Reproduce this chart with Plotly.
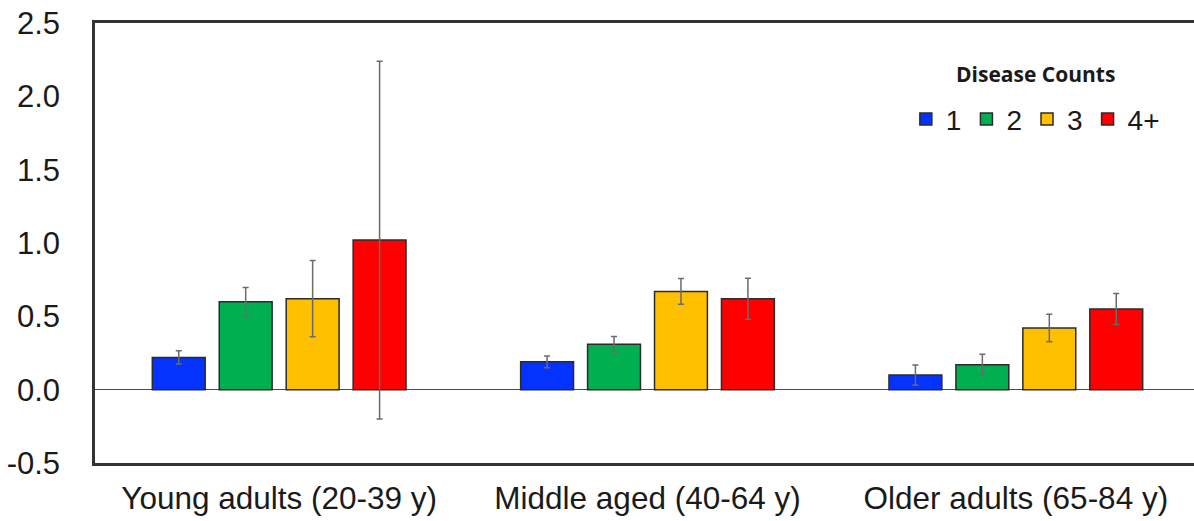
import plotly.graph_objects as go

# age groups on the x axis
age_groups = ["Young adults (20-39 y)", "Middle aged (40-64 y)", "Older adults (65-84 y)"]

# disease count series: bar heights and symmetric error
series_names = ["1", "2", "3", "4+"]
values_1 = [0.22, 0.19, 0.10]
values_2 = [0.60, 0.31, 0.17]
values_3 = [0.62, 0.67, 0.42]
values_4 = [1.02, 0.62, 0.55]
errors_1 = [0.045, 0.04, 0.068]
errors_2 = [0.097, 0.053, 0.072]
errors_3 = [0.26, 0.088, 0.094]
errors_4 = [1.22, 0.14, 0.105]

# y tick labels (plain hyphen minus as in the original)
y_ticks = [-0.5, 0.0, 0.5, 1.0, 1.5, 2.0, 2.5]
y_tick_labels = ["-0.5", "0.0", "0.5", "1.0", "1.5", "2.0", "2.5"]

colors = ["#0433FF", "#00B050", "#FFC000", "#FF0000"]

fig = go.Figure()
for name, vals, errs, color in zip(
    series_names,
    [values_1, values_2, values_3, values_4],
    [errors_1, errors_2, errors_3, errors_4],
    colors,
):
    fig.add_trace(
        go.Bar(
            x=age_groups,
            y=vals,
            name=name,
            marker={"color": color, "line": {"color": "#2b2b2b", "width": 1.5}},
            error_y={
                "type": "data",
                "array": errs,
                "visible": True,
                "color": "#6b6b6b",
                "thickness": 1.5,
                "width": 3,
            },
        )
    )

# legend heading as a separate label so it can sit higher than plotly puts it
fig.add_annotation(
    text="<b>Disease Counts</b>",
    xref="paper",
    yref="paper",
    x=0.851,
    y=0.884,
    xanchor="center",
    yanchor="middle",
    showarrow=False,
    font={"size": 21, "family": "Open Sans, sans-serif", "color": "#1a1a1a"},
)

# figure is a few px wider than the window: the original's frame runs off the right edge
fig.update_layout(
    width=1200,
    height=521,
    margin={"l": 95, "r": 0, "t": 23, "b": 58, "autoexpand": False},
    paper_bgcolor="white",
    plot_bgcolor="white",
    barmode="group",
    bargap=0.273,
    bargroupgap=0.21,
    font={"family": "Liberation Sans, Arial, sans-serif", "color": "#1a1a1a"},
    legend={
        "orientation": "h",
        "x": 0.851,
        "xanchor": "center",
        "y": 0.838,
        "yanchor": "top",
        "font": {"size": 28},
        "itemwidth": 30,
        "tracegroupgap": 0,
    },
    xaxis={
        "range": [-0.5, 2.5],
        "automargin": False,
        "showline": True,
        "linecolor": "#333333",
        "linewidth": 2.5,
        "mirror": True,
        "ticks": "",
        "tickfont": {"size": 31.5},
        "ticklabelstandoff": 5,
        "showgrid": False,
    },
    yaxis={
        "range": [-0.5, 2.5],
        "automargin": False,
        "tickvals": y_ticks,
        "ticktext": y_tick_labels,
        "ticklabeloverflow": "allow",
        "showline": True,
        "linecolor": "#333333",
        "linewidth": 2.5,
        "ticks": "",
        "tickfont": {"size": 31},
        "ticklabelstandoff": 26,
        "showgrid": False,
        "zeroline": True,
        "zerolinecolor": "#4a4a4a",
        "zerolinewidth": 1.2,
    },
)

# drop the browser's default body margin and scrollbars so the figure starts at the corner
fig.write_html(
    "out.html",
    config={"displayModeBar": False},
    post_script="document.body.style.margin = '0'; document.body.style.overflow = 'hidden';",
)
